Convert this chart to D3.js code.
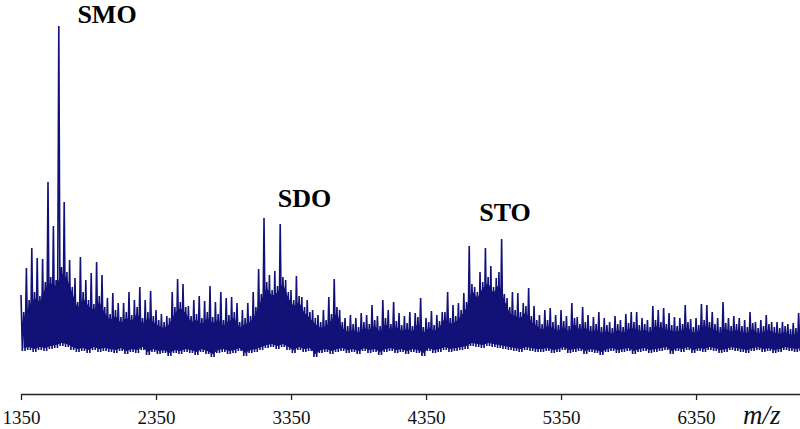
<!DOCTYPE html>
<html>
<head>
<meta charset="utf-8">
<script src="https://cdn.jsdelivr.net/npm/d3@7"></script>
<style>
  html, body { margin: 0; padding: 0; background: #fff; }
  svg { display: block; }
</style>
</head>
<body>
<svg id="chart" width="800" height="429"></svg>
<script>
// spectrum read in bins of 40 m/z from 1350, intensity in a.u.
var mzStart = 1350, mzStep = 40;
// highest spike in each bin
var peakTop = [
  67, 94, 114, 104, 103, 180, 136, 336, 160, 102, 84, 105, 82, 89, 100, 87,
  64, 69, 59, 59, 70, 62, 75, 62, 71, 52, 48, 46, 70, 83,
  78, 56, 62, 66, 61, 76, 60, 70, 64, 65, 59, 52, 59, 70, 93,
  144, 87, 91, 138, 82, 72, 86, 65, 62, 52, 47, 52, 65, 83,
  52, 44, 47, 44, 49, 47, 57, 46, 62, 52, 60, 49, 46, 50, 49, 64, 44, 51, 47, 50, 70, 57, 59, 69,
  116, 75, 90, 114, 96, 84, 123, 64, 70, 69, 59, 74, 56,
  47, 52, 54, 47, 52, 46, 59, 45, 55, 47, 45, 50, 44, 40, 46, 42, 48, 50, 50, 44, 42, 56, 52, 54, 49,
  45, 44, 57, 43, 44, 58, 57, 50, 44, 60, 44, 46, 44, 42, 50, 40, 42, 47, 40, 40, 40, 38, 39, 49
];
// second spike in each bin
var midTop = [
  50, 62, 70, 66, 80, 85, 82, 95, 90, 75, 60, 70, 62, 58, 66, 55,
  48, 52, 45, 50, 47, 55, 44, 50, 46, 42, 40, 44, 55, 60,
  55, 46, 48, 44, 50, 45, 48, 42, 47, 50, 40, 44, 46, 55, 68,
  80, 72, 76, 85, 70, 62, 66, 55, 50, 44, 40, 42, 48, 55,
  40, 36, 38, 35, 40, 38, 42, 36, 44, 38, 41, 37, 39, 36, 45, 35, 40, 37, 41, 50, 44, 46, 52, 60,
  78, 70, 80, 85, 75, 90, 68, 55, 52, 50, 56, 46, 42,
  38, 42, 40, 37, 41, 36, 44, 38, 40, 36, 38, 35, 37, 34, 38, 35, 39, 40, 37, 38, 35, 42, 40, 38, 37,
  36, 38, 40, 35, 37, 42, 40, 38, 35, 39, 36, 38, 36, 35, 39, 34, 36, 38, 35, 34, 36, 33, 34, 38
];
// lowest point of the noise in each bin
var floorLow = [
  11, 12, 10, 12, 11, 13, 14, 16, 15, 12, 10, 11, 9, 12, 10, 11,
  10, 9, 11, 8, 10, 9, 12, 7, 10, 8, 9, 6, 9, 8,
  10, 9, 7, 10, 8, 5, 9, 10, 8, 9, 11, 6, 9, 10, 12,
  14, 15, 13, 15, 12, 9, 12, 10, 11, 5, 9, 10, 8, 10,
  11, 9, 10, 8, 11, 9, 10, 7, 10, 11, 9, 10, 8, 10, 9, 6, 11, 9, 10, 12, 10, 11, 12, 13,
  16, 15, 14, 16, 15, 14, 13, 12, 11, 10, 12, 11, 10,
  10, 11, 9, 10, 12, 9, 10, 11, 8, 10, 9, 7, 10, 11, 9, 10, 11, 8, 10, 11, 9, 10, 11, 12, 8,
  11, 10, 12, 9, 11, 10, 12, 11, 9, 10, 12, 11, 10, 9, 11, 12, 10, 11, 9, 10, 12, 11, 10, 11
];
var tickValues = [1350, 2350, 3350, 4350, 5350, 6350];
var peakNames = ['SMO', 'SDO', 'STO'];

var svg = d3.select('#chart');
var lineColor = '#111178';
var serif = '"Liberation Serif", Tinos, "Times New Roman", Times, "DejaVu Serif", serif';

var x = d3.scaleLinear().domain([1350, 7120]).range([21, 800]);
var y = d3.scaleLinear().domain([0, 340]).range([362, 22]);

// solid body of the noise band, up to the lower of the two spikes per bin
var bins = peakTop.map(function(v, i) {
    return {
        mz: mzStart + i*mzStep,
        lo: floorLow[i] + 3,
        hi: Math.min(v, midTop[i]) - 6
    };
});
svg.append('path')
    .datum(bins)
    .attr('d', d3.area()
        .x(function(d) { return x(d.mz + mzStep/2); })
        .y0(function(d) { return y(d.lo); })
        .y1(function(d) { return y(d.hi); }))
    .attr('fill', lineColor);

// zigzag: spike, floor, second spike, floor
var pts = [];
peakTop.forEach(function(v, i) {
    var mz = mzStart + i*mzStep;
    pts.push({mz: mz, v: v});
    pts.push({mz: mz + 10, v: floorLow[i]});
    pts.push({mz: mz + 20, v: midTop[i]});
    pts.push({mz: mz + 30, v: floorLow[i]});
});
var line = d3.line()
    .x(function(d) { return x(d.mz); })
    .y(function(d) { return y(d.v); });
svg.append('path')
    .datum(pts)
    .attr('d', line)
    .attr('fill', 'none')
    .attr('stroke', lineColor)
    .attr('stroke-width', 1.6)
    .attr('stroke-linejoin', 'bevel');

// x axis
var axisG = svg.append('g')
    .attr('transform', 'translate(0,394)')
    .call(d3.axisBottom(x).tickValues(tickValues).tickSize(6).tickSizeOuter(0).tickFormat(d3.format('d')));
axisG.select('.domain').attr('stroke', '#222').attr('stroke-width', 1.3);
axisG.selectAll('.tick line').attr('stroke', '#222').attr('stroke-width', 1.3);
axisG.selectAll('.tick text')
    .attr('y', 30)
    .attr('dy', 0)
    .attr('fill', '#111')
    .style('font-family', serif)
    .style('font-size', '19px');

svg.append('text')
    .attr('x', 743)
    .attr('y', 424)
    .attr('fill', '#111')
    .style('font-family', serif)
    .style('font-style', 'italic')
    .style('font-size', '27px')
    .text('m/z');

// peak labels
var labelPos = [[1987, 339], [3450, 155], [4935, 141]];
svg.selectAll('.peak_label')
    .data(peakNames)
    .enter()
    .append('text')
    .attr('class', 'peak_label')
    .attr('x', function(d, i) { return x(labelPos[i][0]); })
    .attr('y', function(d, i) { return y(labelPos[i][1]); })
    .attr('text-anchor', 'middle')
    .attr('fill', '#000')
    .style('font-family', serif)
    .style('font-weight', 'bold')
    .style('font-size', '26px')
    .text(function(d) { return d; });
</script>
</body>
</html>
